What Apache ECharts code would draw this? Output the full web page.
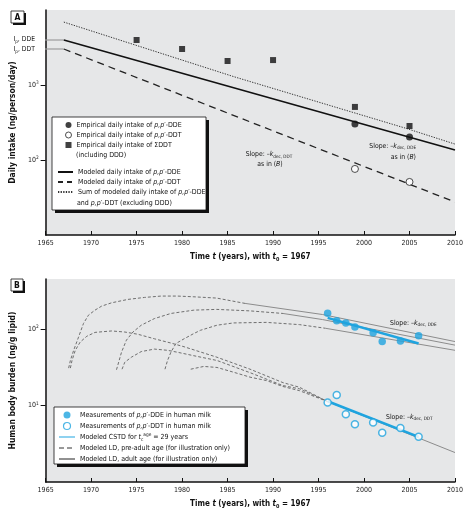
<!DOCTYPE html>
<html><head><meta charset="utf-8">
<script src="https://cdn.jsdelivr.net/npm/echarts@6/dist/echarts.min.js"></script>
<style>html,body{margin:0;padding:0;background:#fff}#c{width:467px;height:519px}</style>
</head><body><div id="c"></div>
<script>
const FONT = "'DejaVu Sans Condensed','DejaVu Sans',sans-serif";

// ---------- Panel A data ----------
const empYears = [1999, 2005];
const empDDE = [302, 203];
const empDDT = [76, 51];
const sumEmpYears = [1975, 1980, 1985, 1990, 1999, 2005];
const empSumDDT = [3980, 3020, 2090, 2150, 510, 284];
const modelYears = [1967, 2010];
const modDDE = [3981, 136];
const modDDT = [3020, 27.5];
const modSumYears = [1967, 1985.7, 2004.5, 2010];
const modSum = [6900, 1290, 267, 163];
const ipYears = [1964.55, 1967];
const ipDDE = [3981, 3981];
const ipDDT = [3020, 3020];
const xTicksA = [1965, 1970, 1975, 1980, 1985, 1990, 1995, 2000, 2005, 2010];
const yTicksA = [100, 1000];

// ---------- Panel B data ----------
const measYears = [1996, 1997, 1998, 1999, 2001, 2002, 2004, 2006];
const measDDE = [162, 129, 121, 107, 90, 69, 70, 82];
const measDDT = [11.0, 13.8, 7.7, 5.7, 6.0, 4.4, 5.1, 3.9];
const cstdYears = [1996, 2006];
const cstdDDE = [141, 65];
const cstdDDT = [11.4, 3.9];
const ldDDE1Years = [1967.53,1967.72,1968.08,1968.62,1969.16,1969.71,1970.43,1971.16,1972.25,1974.05,1975.87,1977.68,1979.49,1981.3,1983.8,1986.92];
const ldDDE1 = [31,39,53,79,119,153,178,201,222,246,261,272,272,266,256,218];
const ldDDE2Years = [1972.79,1972.97,1973.34,1973.88,1974.6,1975.51,1976.96,1978.77,1981.3,1983.8,1987.47,1991.09];
const ldDDE2 = [29.5,35,50,72,92,113,138,161,178,182,174,161];
const ldDDE3Years = [1978.12,1978.4,1978.77,1979.32,1980.22,1981.3,1982.03,1983.84,1985.65,1989.27,1992.9,1995.76];
const ldDDE3 = [30,39,50,65,75,88,97,113,121,123,115,103];
const ldDDT1Years = [1967.72,1967.9,1968.26,1968.8,1969.53,1970.43,1972.25,1973.7,1975.14,1976.96,1978.77,1980.22,1983.84,1987.47,1991.09,1992.9,1996];
const ldDDT1 = [31,39,53,68,81,91,95,92,86,75,66,59,43,30,20,17.4,11.3];
const ldDDT2Years = [1973.4,1973.7,1974.42,1975.51,1976.96,1978.4,1979.49,1981.3,1983.84,1987.47,1991.09,1992.9,1996];
const ldDDT2 = [30,37,43,51,55,53,50,45,39,27,18.3,16.6,11.3];
const ldDDT3Years = [1980.95,1982.39,1983.84,1985.65,1987.47,1989.27,1991.09,1992.9,1996];
const ldDDT3 = [30,32.6,31.6,27.4,23.6,21.3,17.8,15.7,11.3];
const adDDE1Years = [1986.92, 1995.43, 2010];
const adDDE1 = [218, 156, 69];
const adDDE2Years = [1991.09, 1995.43, 2010];
const adDDE2 = [161, 134, 62];
const adDDE3Years = [1995.76, 2010];
const adDDE3 = [103, 53];
const adDDTYears = [1996, 2010];
const adDDT = [11.3, 2.43];
const yTicksB = [10, 100];

const zip = (xs, ys) => xs.map((x, i) => [x, ys[i]]);
const mkRich = (size, weight, color) => ({
  i: {fontStyle: 'italic', fontSize: size, fontWeight: weight || 'normal', fontFamily: FONT, color: color || '#111'},
  sub: {fontSize: size * 0.68, verticalAlign: 'bottom', fontWeight: weight || 'normal', fontFamily: FONT, color: color || '#111', lineHeight: size * 1.3},
  sup: {fontSize: size * 0.68, verticalAlign: 'top', fontWeight: weight || 'normal', fontFamily: FONT, color: color || '#111', lineHeight: size * 1.3},
  n: {fontSize: size, fontWeight: weight || 'normal', fontFamily: FONT, color: color || '#111'}
});

const LABELS = {
  empDDE: 'Empirical daily intake of {i|p,p′}-DDE',
  empDDT: 'Empirical daily intake of {i|p,p′}-DDT',
  empSum: 'Empirical daily intake of ΣDDT',
  modDDE: 'Modeled daily intake of {i|p,p′}-DDE',
  modDDT: 'Modeled daily intake of {i|p,p′}-DDT',
  modSum: 'Sum of modeled daily intake of {i|p,p′}-DDE',
  measDDE: 'Measurements of {i|p,p′}-DDE in human milk',
  measDDT: 'Measurements of {i|p,p′}-DDT in human milk',
  cstd: 'Modeled CSTD for {i|t}{sub|c}{sup|age} = 29 years',
  ldPre: 'Modeled LD, pre-adult age (for illustration only)',
  ldAdult: 'Modeled LD, adult age (for illustration only)'
};

const BLUE = '#1fa4df';
const TICK = 7;
const xAxisBase = (gi) => ({
  type: 'value', gridIndex: gi, min: 1965, max: 2010, interval: 5,
  axisLine: {show: true, onZero: false, lineStyle: {color: '#111', width: 1.5}},
  axisTick: {show: true, inside: true, length: 4, lineStyle: {color: '#111', width: 1}},
  axisLabel: {fontSize: TICK, color: '#222', margin: 5, fontFamily: FONT, formatter: v => xTicksA.includes(v) ? String(v) : ''},
  splitLine: {show: false},
  name: 'Time {i|t} (years), with {i|t}{sub|0} = 1967',
  nameLocation: 'middle', nameGap: 17,
  nameTextStyle: {fontSize: 8, fontWeight: 'bold', color: '#111', fontFamily: FONT, rich: mkRich(8, 'bold')}
});
const yAxisBase = (gi, min, max, ticks, name) => ({
  type: 'log', logBase: 10, gridIndex: gi, min: min, max: max,
  axisLine: {show: true, onZero: false, lineStyle: {color: '#111', width: 1.5}},
  axisTick: {show: true, inside: false, length: 5, customValues: ticks, lineStyle: {color: '#111', width: 1}},
  axisLabel: {customValues: ticks, fontSize: TICK, color: '#222', margin: 7, fontFamily: FONT,
    formatter: v => '10{sup|' + Math.round(Math.log10(v)) + '}', rich: mkRich(TICK, 'normal', '#222')},
  splitLine: {show: false}, minorTick: {show: false},
  name: name, nameLocation: 'middle', nameRotate: 90, nameGap: 21,
  nameTextStyle: {fontSize: 8.5, fontWeight: 'bold', color: '#111', fontFamily: FONT}
});

const lineS = (name, xs, ys, gi, ls, extra) => Object.assign({
  type: 'line', name: name, xAxisIndex: gi, yAxisIndex: gi, data: zip(xs, ys),
  symbol: 'none', smooth: false, lineStyle: ls, itemStyle: {color: ls.color}, silent: true
}, extra || {});
const scatS = (name, xs, ys, gi, symbol, size, itemStyle) => ({
  type: 'scatter', name: name, xAxisIndex: gi, yAxisIndex: gi, data: zip(xs, ys),
  symbol: symbol, symbolSize: size, itemStyle: itemStyle, silent: true, z: 5
});

const preLS = {color: '#6f6f6f', width: 1, type: [3, 2]};
const adultLS = {color: '#8c8c8c', width: 1};
const cstdLS = {color: BLUE, width: 2.5};

const series = [
  // Panel A
  lineS('ipA1', ipYears, ipDDE, 0, {color: '#9c9c9c', width: 1.2}, {clip: false}),
  lineS('ipA2', ipYears, ipDDT, 0, {color: '#9c9c9c', width: 1.2}, {clip: false}),
  lineS('modSum', modSumYears, modSum, 0, {color: '#333', width: 1, type: [1.3, 1.3]}),
  lineS('modDDT', modelYears, modDDT, 0, {color: '#222', width: 1.3, type: [7, 5]}),
  lineS('modDDE', modelYears, modDDE, 0, {color: '#111', width: 1.6}),
  scatS('empSum', sumEmpYears, empSumDDT, 0, 'rect', 6, {color: '#111'}),
  scatS('empDDE', empYears, empDDE, 0, 'circle', 7, {color: '#111'}),
  scatS('empDDT', empYears, empDDT, 0, 'circle', 7, {color: '#fff', borderColor: '#222', borderWidth: 1}),
  // Panel B
  lineS('ldPre', ldDDE1Years, ldDDE1, 1, preLS),
  lineS('ldPre', ldDDE2Years, ldDDE2, 1, preLS),
  lineS('ldPre', ldDDE3Years, ldDDE3, 1, preLS),
  lineS('ldPre', ldDDT1Years, ldDDT1, 1, preLS),
  lineS('ldPre', ldDDT2Years, ldDDT2, 1, preLS),
  lineS('ldPre', ldDDT3Years, ldDDT3, 1, preLS),
  lineS('ldAdult', adDDE1Years, adDDE1, 1, adultLS),
  lineS('ldAdult', adDDE2Years, adDDE2, 1, adultLS),
  lineS('ldAdult', adDDE3Years, adDDE3, 1, adultLS),
  lineS('ldAdult', adDDTYears, adDDT, 1, adultLS),
  lineS('cstd', cstdYears, cstdDDE, 1, cstdLS),
  lineS('cstd', cstdYears, cstdDDT, 1, cstdLS),
  scatS('measDDE', measYears, measDDE, 1, 'circle', 7.5, {color: BLUE}),
  scatS('measDDT', measYears, measDDT, 1, 'circle', 7, {color: '#fff', borderColor: BLUE, borderWidth: 1.5})
];

const LEG = 7;
const legendText = {fontSize: LEG, lineHeight: 10, color: '#111', fontFamily: FONT, rich: mkRich(LEG)};
const hideSym = {opacity: 0};
const legends = [
  {orient: 'vertical', left: 65, top: 120, padding: 0, itemGap: 0, itemWidth: 6, itemHeight: 6,
   selectedMode: false, textStyle: legendText, formatter: n => LABELS[n],
   data: [{name: 'empDDE'}, {name: 'empDDT', itemStyle: {color: '#fff', borderColor: '#222', borderWidth: 1}}, {name: 'empSum'}]},
  {orient: 'vertical', left: 57, top: 167, padding: 0, itemGap: 0, itemWidth: 15, itemHeight: 8,
   selectedMode: false, textStyle: legendText, formatter: n => LABELS[n],
   data: [{name: 'modDDE', itemStyle: hideSym}, {name: 'modDDT', itemStyle: hideSym, lineStyle: {type: [5, 4]}}, {name: 'modSum', itemStyle: hideSym}]},
  {orient: 'vertical', left: 58, top: 410, padding: 0, itemGap: 1, itemWidth: 16, itemHeight: 7,
   selectedMode: false, textStyle: legendText, formatter: n => LABELS[n],
   data: [{name: 'measDDE'},
          {name: 'measDDT', itemStyle: {color: '#fff', borderColor: BLUE, borderWidth: 1.2}},
          {name: 'cstd', itemStyle: hideSym, lineStyle: {color: '#8fd2f0', width: 2}},
          {name: 'ldPre', itemStyle: hideSym, lineStyle: {color: '#333', width: 1, type: [5, 3]}},
          {name: 'ldAdult', itemStyle: hideSym, lineStyle: {color: '#222', width: 1}}]}
];

const gtext = (x, y, text, size, extra) => ({
  type: 'text', x: x, y: y, z: 20, silent: true,
  style: Object.assign({text: text, fill: '#111', fontSize: size, fontFamily: FONT,
    align: 'left', textAlign: 'left', verticalAlign: 'middle', textVerticalAlign: 'middle', rich: mkRich(size)}, extra || {})
});
const shadowBox = (x, y, w, h, off) => ([
  {type: 'rect', z: 3, silent: true, shape: {x: x + off, y: y + off, width: w, height: h}, style: {fill: '#111'}},
  {type: 'rect', z: 3, silent: true, shape: {x: x, y: y, width: w, height: h}, style: {fill: '#fff', stroke: '#111', lineWidth: 0.8}}
]);

const ANN = 6.8;
const graphic = [].concat(
  shadowBox(11, 11, 13, 12, 2),
  [gtext(17.5, 17.3, 'A', 8.5, {fontWeight: 'bold', align: 'center', textAlign: 'center'})],
  shadowBox(11, 279, 12, 12, 2),
  [gtext(17, 285.3, 'B', 8.5, {fontWeight: 'bold', align: 'center', textAlign: 'center'})],
  shadowBox(52, 117, 154, 93, 3),
  shadowBox(54, 407, 191, 57, 3),
  [
    gtext(76, 155, '(including DDD)', LEG),
    gtext(77, 203, 'and {i|p,p′}-DDT (excluding DDD)', LEG),
    gtext(35, 39.5, 'I{sub|p}, DDE', ANN, {align: 'right', textAlign: 'right'}),
    gtext(35, 49.5, 'I{sub|p}, DDT', ANN, {align: 'right', textAlign: 'right'}),
    gtext(269, 154.5, 'Slope: –{i|k}{sub|dec, DDT}', ANN, {align: 'center', textAlign: 'center'}),
    gtext(270, 164, 'as in ({i|B})', ANN, {align: 'center', textAlign: 'center'}),
    gtext(416, 146, 'Slope: –{i|k}{sub|dec, DDE}', ANN, {align: 'right', textAlign: 'right'}),
    gtext(416, 157, 'as in ({i|B})', ANN, {align: 'right', textAlign: 'right'}),
    gtext(390, 323, 'Slope: –{i|k}{sub|dec, DDE}', ANN),
    gtext(386, 417, 'Slope: –{i|k}{sub|dec, DDT}', ANN)
  ]
);

const option = {
  animation: false,
  textStyle: {fontFamily: FONT},
  grid: [
    {left: 40, top: 10, width: 415, height: 225, show: true, backgroundColor: '#e6e7e8', borderWidth: 0},
    {left: 40, top: 279, width: 415, height: 203, show: true, backgroundColor: '#e6e7e8', borderWidth: 0}
  ],
  xAxis: [xAxisBase(0), xAxisBase(1)],
  yAxis: [
    yAxisBase(0, 10, 10000, yTicksA, 'Daily intake (ng/person/day)'),
    yAxisBase(1, 1, 455, yTicksB, 'Human body burden (ng/g lipid)')
  ],
  legend: legends,
  series: series,
  graphic: graphic
};
const chart = echarts.init(document.getElementById('c'));
chart.setOption(option);
</script></body></html>
